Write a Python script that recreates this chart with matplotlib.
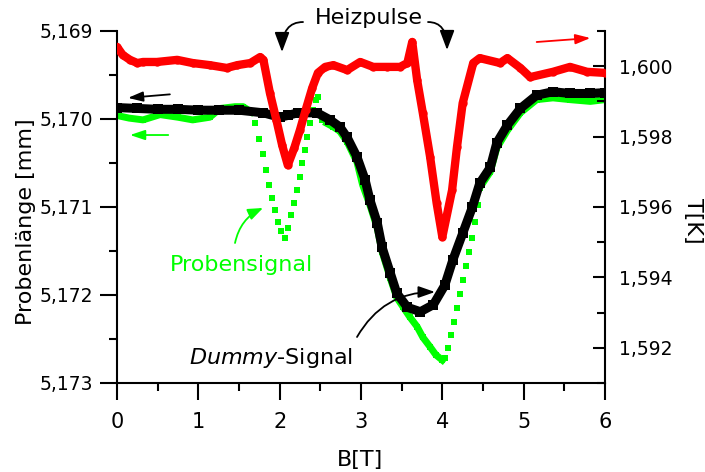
import numpy as np
import matplotlib.pyplot as plt
from matplotlib.ticker import FuncFormatter, MultipleLocator

plt.rcParams['font.family'] = ['DejaVu Sans']

## Data
# T(B) of the sample holder, right axis
red_B = [0.00, 0.07, 0.16, 0.25, 0.32, 0.49, 0.74, 0.93, 1.14, 1.35, 1.48, 1.64,
         1.76, 1.80, 1.88, 1.96, 2.03, 2.10, 2.18, 2.25, 2.32, 2.40, 2.47, 2.56,
         2.66, 2.83, 2.99, 3.15, 3.32, 3.48, 3.57, 3.63, 3.69, 3.76, 3.85, 3.93,
         4.00, 4.12, 4.18, 4.25, 4.38, 4.46, 4.71, 4.80, 4.96, 5.08, 5.36, 5.57,
         5.78, 6.00]
red_T = [1.60055, 1.60032, 1.60018, 1.60009, 1.60012, 1.60012, 1.60018, 1.60009,
         1.60003, 1.59995, 1.60003, 1.60009, 1.60026, 1.60018, 1.59924, 1.59847,
         1.59776, 1.59719, 1.59768, 1.59819, 1.59876, 1.59938, 1.59981, 1.59998,
         1.60003, 1.59989, 1.60012, 1.59998, 1.59998, 1.59998, 1.60009, 1.60069,
         1.59961, 1.59867, 1.59742, 1.59611, 1.59515, 1.59648, 1.59770, 1.59895,
         1.60009, 1.60023, 1.60009, 1.60023, 1.59995, 1.59969, 1.59984, 1.59998,
         1.59984, 1.59981]

# Dummy-Signal, left axis
black_B = [0.00, 0.25, 0.50, 0.75, 1.00, 1.25, 1.50, 1.80, 2.00, 2.10, 2.22, 2.46,
           2.62, 2.74, 2.83, 2.95, 3.05, 3.11, 3.20, 3.26, 3.36, 3.44, 3.57, 3.73,
           3.89, 4.03, 4.13, 4.25, 4.37, 4.46, 4.59, 4.67, 4.80, 4.96, 5.16, 5.36,
           5.57, 5.82, 6.00]
black_L = [5.16987, 5.16988, 5.16989, 5.16989, 5.16990, 5.16990, 5.16990, 5.16993,
           5.16998, 5.16996, 5.16993, 5.16993, 5.17001, 5.17009, 5.17021, 5.17043,
           5.17069, 5.17092, 5.17118, 5.17146, 5.17175, 5.17198, 5.17214, 5.17219,
           5.17211, 5.17189, 5.17160, 5.17130, 5.17100, 5.17073, 5.17055, 5.17027,
           5.17007, 5.16988, 5.16973, 5.16969, 5.16971, 5.16971, 5.16970]

# Probensignal, left axis
green_B = [0.00, 0.15, 0.32, 0.53, 0.75, 0.93, 1.14, 1.27, 1.45, 1.55, 1.65,
           1.70, 1.745, 1.795, 1.83, 1.87, 1.905, 1.94, 1.98, 2.015, 2.065,
           2.10, 2.14, 2.18, 2.21, 2.25, 2.275, 2.31, 2.335, 2.37, 2.41, 2.45, 2.47,
           2.52, 2.58, 2.66, 2.74, 2.83, 2.95, 3.02, 3.11, 3.20, 3.26, 3.36, 3.44,
           3.52, 3.60, 3.69, 3.76, 3.85, 3.92, 4.00,
           4.03, 4.07, 4.11, 4.14, 4.18, 4.22, 4.25, 4.29, 4.33, 4.365, 4.40, 4.44,
           4.46, 4.59, 4.67, 4.80, 4.96, 5.16, 5.36, 5.57, 5.82, 6.00]
green_L = [5.16996, 5.16999, 5.17001, 5.16995, 5.16998, 5.17001, 5.16998, 5.16988,
           5.16986, 5.16986, 5.16992,
           5.17005, 5.17023, 5.17040, 5.17058, 5.17075, 5.17090, 5.17103, 5.17117,
           5.17127, 5.17135,
           5.17124, 5.17109, 5.17096, 5.17081, 5.17066, 5.17050, 5.17035, 5.17021,
           5.17005, 5.16990, 5.16978, 5.16975,
           5.17001, 5.17005, 5.17009, 5.17014, 5.17026, 5.17049, 5.17075, 5.17098,
           5.17124, 5.17151, 5.17181, 5.17203,
           5.17214, 5.17225, 5.17236, 5.17248, 5.17259, 5.17268, 5.17274,
           5.17272, 5.17260, 5.17246, 5.17231, 5.17215, 5.17199, 5.17183, 5.17167,
           5.17151, 5.17135, 5.17117, 5.17098,
           5.17078, 5.17060, 5.17033, 5.17013, 5.16993, 5.16978, 5.16976, 5.16978,
           5.16980, 5.16978]

# B ranges where the squares of the Probensignal stand apart
green_gaps = [(1.67, 2.57), (4.01, 4.45)]

comma = FuncFormatter(lambda v, pos: f"{v:.3f}".replace('.', ','))

## Plotting
fig = plt.figure(figsize=(7.05, 4.72), dpi=100)
ax = fig.add_axes([117/705, 89/472, 488/705, 352/472])
ax2 = ax.twinx()

gB = np.array(green_B)
green_line = np.array(green_L, dtype=float)
for lo, hi in green_gaps:
    green_line[(gB > lo) & (gB < hi)] = np.nan
ax.plot(gB, green_line, '-', color='#00ff00', lw=5, zorder=2)
ax.plot(gB, green_L, 's', color='#00ff00', ms=5, mew=0, zorder=2)
ax.plot(black_B, black_L, '-s', color='k', lw=6.5, ms=6.5, mew=0, zorder=3,
        solid_joinstyle='round')
ax2.plot(red_B, red_T, '-o', color='#ff0000', lw=6, ms=6, mew=0, zorder=3,
         solid_joinstyle='round', solid_capstyle='round')

ax.set_xlim(0, 6)
ax.set_ylim(5.173, 5.169)
ax2.set_ylim(1.591, 1.601)

ax.set_xticks([0, 1, 2, 3, 4, 5, 6])
ax.xaxis.set_minor_locator(MultipleLocator(0.5))
ax.set_yticks([5.169, 5.170, 5.171, 5.172, 5.173])
ax.yaxis.set_minor_locator(MultipleLocator(0.0005))
ax.yaxis.set_major_formatter(comma)
ax2.set_yticks([1.592, 1.594, 1.596, 1.598, 1.600])
ax2.yaxis.set_minor_locator(MultipleLocator(0.001))
ax2.yaxis.set_major_formatter(comma)

ax.tick_params(which='major', direction='out', length=12, width=1.5)
ax.tick_params(which='minor', direction='out', length=6, width=1.5)
ax.tick_params(axis='y', labelsize=13.5, pad=5)
ax.tick_params(axis='x', labelsize=15, pad=9)
ax2.tick_params(which='major', direction='in', length=9, width=1.5, labelsize=13.5, pad=10)
ax2.tick_params(which='minor', direction='in', length=6, width=1.5)

for s in ['top', 'right']:
    ax.spines[s].set_visible(False)
for s in ['top', 'left', 'bottom']:
    ax2.spines[s].set_visible(False)
for sp in list(ax.spines.values()) + list(ax2.spines.values()):
    sp.set_linewidth(1.5)

ax.set_xlabel('B[T]', fontsize=16, va='center')
ax.xaxis.set_label_coords(0.498, -0.219)
ax.set_ylabel('Probenlänge [mm]', fontsize=16, va='center', ha='center')
ax.yaxis.set_label_coords(-0.186, 0.457)
ax2.set_ylabel('T[K]', fontsize=16, rotation=270, va='center', ha='center')
ax2.yaxis.set_label_coords(1.180, 0.460)

## Annotations
def arrow(xy, xytext, color='k', style='-|>', conn='arc3', scale=10, lw=1.3):
    ax.annotate('', xy=xy, xytext=xytext, annotation_clip=False,
                arrowprops=dict(arrowstyle=style, color=color, lw=lw,
                                mutation_scale=scale, shrinkA=0, shrinkB=0,
                                connectionstyle=conn))

# axis markers
arrow((0.135, 5.16976), (0.65, 5.16972), style='-|>,head_length=0.9,head_width=0.3')
arrow((0.16, 5.170182), (0.63, 5.170182), color='#00ff00',
      style='-|>,head_length=0.9,head_width=0.3')
arrow((5.82, 5.16908), (5.16, 5.169125), color='#ff0000',
      style='-|>,head_length=0.9,head_width=0.3')

# Heizpulse
ax.text(3.10, 5.168852, 'Heizpulse', fontsize=16, ha='center', va='center', clip_on=False)
arrow((2.029, 5.169239), (2.287, 5.168898), style='-|>,head_length=1.2,head_width=0.45',
      conn='angle3,angleA=0,angleB=90')
arrow((4.058, 5.169216), (3.824, 5.168898), style='-|>,head_length=1.2,head_width=0.45',
      conn='angle3,angleA=0,angleB=90')

# Probensignal
ax.text(1.526, 5.171659, 'Probensignal', fontsize=16, color='#00ff00',
        ha='center', va='center')
arrow((1.795, 5.171011), (1.451, 5.171409), color='#00ff00',
      style='-|>,head_length=0.9,head_width=0.35', conn='arc3,rad=-0.25')

# Dummy-Signal
ax.text(1.894, 5.172716, r'$\it{Dummy}$-Signal', fontsize=16, ha='center', va='center')
arrow((3.91, 5.171966), (2.951, 5.172477), style='-|>,head_length=1.0,head_width=0.35',
      conn='angle3,angleA=60,angleB=0')

fig.savefig('out.png', dpi=100)
